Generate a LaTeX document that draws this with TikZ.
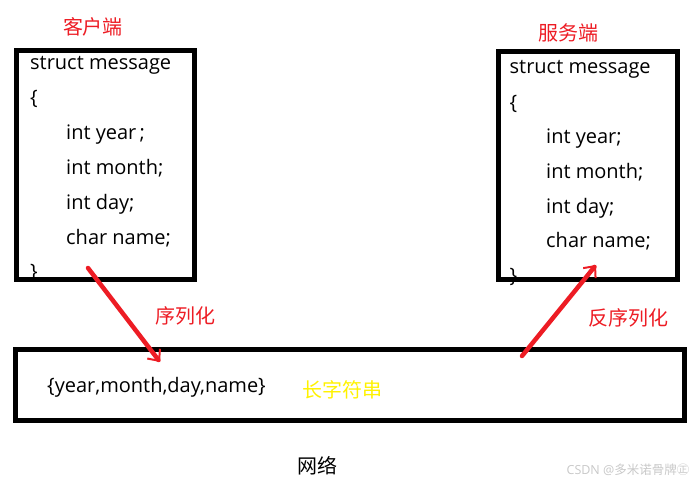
\documentclass[tikz,border=0pt]{standalone}
\usepackage{fontspec}
\setmainfont{Open Sans}
\newfontfamily\cjk{Noto Sans CJK SC}
\usetikzlibrary{arrows.meta}
\definecolor{pred}{RGB}{237,28,36}
\definecolor{pyel}{RGB}{255,242,0}
\definecolor{wm}{RGB}{200,200,200}
\tikzset{
  box/.style={draw=black, line width=5pt},
  code/.style={anchor=mid west, inner sep=0pt, font=\fontsize{20}{22}\selectfont},
  cn/.style={inner sep=0pt, font=\cjk\fontsize{20}{22}\selectfont},
  redarrow/.style={draw=pred, line width=4.5pt, line cap=round, -{Straight Barb[length=9pt,width=16pt,line width=2pt]}},
}
\begin{document}
\begin{tikzpicture}[x=1pt,y=-1pt]
\useasboundingbox (0,0) rectangle (697,484);
% left box text
\node[code] (l1) at (30,67) {struct message};
\node[code] (l2) at (30,101.5) {\{};
\node[code] (l3) at (66,137) {int year\,;};
\node[code] (l4) at (66,171.5) {int month;};
\node[code] (l5) at (66,206.5) {int day;};
\node[code] (l6) at (66,241.5) {char name;};
\node[code] (l7) at (30,275.5) {\}};
% right box text
\node[code] (r1) at (509.5,71) {struct message};
\node[code] (r2) at (509.5,106.5) {\{};
\node[code] (r3) at (546,141) {int year;};
\node[code] (r4) at (546,175.5) {int month;};
\node[code] (r5) at (546,210.5) {int day;};
\node[code] (r6) at (546,245) {char name;};
\node[code] (r7) at (509.5,279.5) {\}};
% bottom text
\node[code] (str) at (47,390) {\{year,month,day,name\}};
% boxes
\draw[box] (16.5,50.5) rectangle (194.5,279.5);
\draw[box] (498.5,51.5) rectangle (677,279.5);
\draw[box] (15,349.5) rectangle (684.5,420.5);
% labels
\node[cn, text=pred] (client) at (93,27) {客户端};
\node[cn, text=pred] (server) at (568,33) {服务端};
\node[cn, text=pred] (ser) at (185,316) {序列化};
\node[cn, text=pred] (deser) at (628,318) {反序列化};
\node[cn, text=pyel] (long) at (342,390) {长字符串};
\node[cn, text=black] (wl) at (317,466) {网络};
\node[inner sep=0pt, text=wm, font=\fontsize{12.5}{13}\selectfont] (wmk) at (628,470) {CSDN @{\cjk 多米诺骨牌㊣}};
% arrows
\coordinate (a1s) at (88,268);
\coordinate (a1e) at (160,362);
\coordinate (a2s) at (522,356);
\coordinate (a2e) at (596,265);
\draw[redarrow] (a1s) -- (a1e);
\draw[redarrow] (a2s) -- (a2e);
\end{tikzpicture}
\end{document}
